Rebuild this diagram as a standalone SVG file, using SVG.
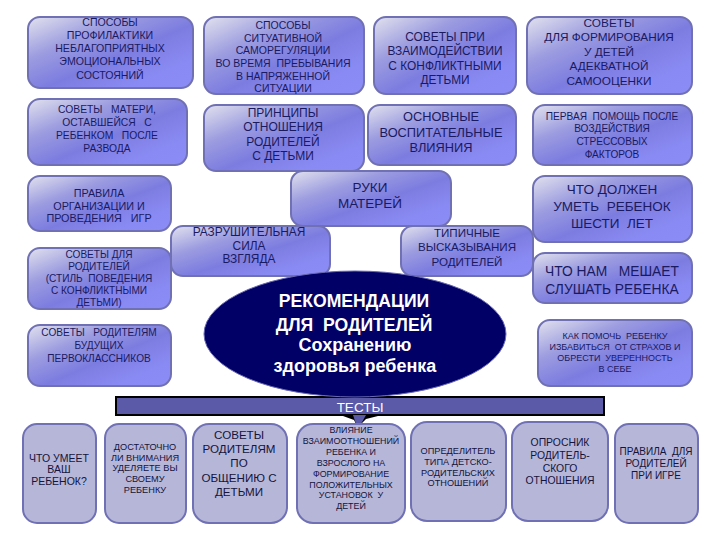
<svg xmlns="http://www.w3.org/2000/svg" width="720" height="540" viewBox="0 0 720 540">
<style>
text{font-family:"Liberation Sans",Arial,sans-serif;text-anchor:middle;white-space:pre}
.n rect{fill:url(#g);stroke:#7070b4;stroke-width:2}
.n text{fill:#1a1a60}
.b rect{fill:#b6b6d8;stroke:#7070b4;stroke-width:2}
.b text{fill:#14143c}
</style>
<defs>
<linearGradient id="g" x1="0" y1="0" x2="1" y2="1">
<stop offset="0" stop-color="#e2e2ee"/><stop offset="0.3" stop-color="#9c9ce0"/><stop offset="0.55" stop-color="#7c7ce0"/><stop offset="0.8" stop-color="#8a8af4"/><stop offset="1" stop-color="#8c8cf6"/>
</linearGradient>
</defs>
<rect width="720" height="540" fill="#fff"/>
<g id="n1" class="n"><rect x="28" y="17" width="165" height="71" rx="12"/><text font-size="10.6"><tspan x="110" y="26">СПОСОБЫ</tspan><tspan x="110" y="39">ПРОФИЛАКТИКИ</tspan><tspan x="110" y="52">НЕБЛАГОПРИЯТНЫХ</tspan><tspan x="110" y="65">ЭМОЦИОНАЛЬНЫХ</tspan><tspan x="110" y="79">СОСТОЯНИЙ</tspan></text></g>
<g id="n2" class="n"><rect x="204" y="17" width="160" height="77" rx="12"/><text font-size="10.5"><tspan x="283" y="29">СПОСОБЫ</tspan><tspan x="283" y="42">СИТУАТИВНОЙ</tspan><tspan x="283" y="54">САМОРЕГУЛЯЦИИ</tspan><tspan x="283" y="67">ВО ВРЕМЯ  ПРЕБЫВАНИЯ</tspan><tspan x="283" y="80">В НАПРЯЖЕННОЙ</tspan><tspan x="283" y="92">СИТУАЦИИ</tspan></text></g>
<g id="n3" class="n"><rect x="374" y="17" width="142" height="77" rx="12"/><text font-size="11.9"><tspan x="445" y="41">СОВЕТЫ ПРИ</tspan><tspan x="445" y="55">ВЗАИМОДЕЙСТВИИ</tspan><tspan x="445" y="70">С КОНФЛИКТНЫМИ</tspan><tspan x="445" y="84">ДЕТЬМИ</tspan></text></g>
<g id="n4" class="n"><rect x="527" y="17" width="165" height="77" rx="12"/><text font-size="11.8"><tspan x="609" y="27">СОВЕТЫ</tspan><tspan x="609" y="41">ДЛЯ ФОРМИРОВАНИЯ</tspan><tspan x="609" y="56">У ДЕТЕЙ</tspan><tspan x="609" y="70">АДЕКВАТНОЙ</tspan><tspan x="609" y="85">САМООЦЕНКИ</tspan></text></g>
<g id="n5" class="n"><rect x="28" y="99" width="159" height="66" rx="12"/><text font-size="10.3"><tspan x="107" y="113">СОВЕТЫ   МАТЕРИ,</tspan><tspan x="107" y="126">ОСТАВШЕЙСЯ   С</tspan><tspan x="107" y="139">РЕБЕНКОМ   ПОСЛЕ</tspan><tspan x="107" y="152">РАЗВОДА</tspan></text></g>
<g id="n6" class="n"><rect x="204" y="105" width="160" height="66" rx="12"/><text font-size="12"><tspan x="283" y="117">ПРИНЦИПЫ</tspan><tspan x="283" y="131">ОТНОШЕНИЯ</tspan><tspan x="283" y="146">РОДИТЕЛЕЙ</tspan><tspan x="283" y="160">С ДЕТЬМИ</tspan></text></g>
<g id="n7" class="n"><rect x="368" y="105" width="148" height="60" rx="12"/><text font-size="12.8"><tspan x="441" y="121">ОСНОВНЫЕ</tspan><tspan x="441" y="137">ВОСПИТАТЕЛЬНЫЕ</tspan><tspan x="441" y="152">ВЛИЯНИЯ</tspan></text></g>
<g id="n8" class="n"><rect x="533" y="105" width="159" height="60" rx="12"/><text font-size="10.1"><tspan x="612" y="120">ПЕРВАЯ  ПОМОЩЬ ПОСЛЕ</tspan><tspan x="612" y="132">ВОЗДЕЙСТВИЯ</tspan><tspan x="612" y="145">СТРЕССОВЫХ</tspan><tspan x="612" y="158">ФАКТОРОВ</tspan></text></g>
<g id="n9" class="n"><rect x="28" y="176" width="143" height="55" rx="12"/><text font-size="10.8"><tspan x="99" y="197">ПРАВИЛА</tspan><tspan x="99" y="210">ОРГАНИЗАЦИИ И</tspan><tspan x="99" y="222">ПРОВЕДЕНИЯ   ИГР</tspan></text></g>
<g id="n10" class="n"><rect x="291" y="171" width="160" height="55" rx="12"/><text font-size="13.5"><tspan x="370" y="192">РУКИ</tspan><tspan x="370" y="208">МАТЕРЕЙ</tspan></text></g>
<g id="n11" class="n"><rect x="171" y="226" width="159" height="50" rx="12"/><text font-size="11.9"><tspan x="249" y="236">РАЗРУШИТЕЛЬНАЯ</tspan><tspan x="249" y="250">СИЛА</tspan><tspan x="249" y="263">ВЗГЛЯДА</tspan></text></g>
<g id="n12" class="n"><rect x="401" y="226" width="132" height="50" rx="12"/><text font-size="11.6"><tspan x="467" y="237">ТИПИЧНЫЕ</tspan><tspan x="467" y="251">ВЫСКАЗЫВАНИЯ</tspan><tspan x="467" y="266">РОДИТЕЛЕЙ</tspan></text></g>
<g id="n13" class="n"><rect x="533" y="176" width="159" height="66" rx="12"/><text font-size="13.5"><tspan x="612" y="194">ЧТО ДОЛЖЕН</tspan><tspan x="612" y="211">УМЕТЬ  РЕБЕНОК</tspan><tspan x="612" y="228">ШЕСТИ  ЛЕТ</tspan></text></g>
<g id="n14" class="n"><rect x="533" y="253" width="159" height="50" rx="12"/><text font-size="13.8"><tspan x="612" y="276">ЧТО НАМ   МЕШАЕТ</tspan><tspan x="612" y="294">СЛУШАТЬ РЕБЕНКА</tspan></text></g>
<g id="n15" class="n"><rect x="28" y="248" width="143" height="61" rx="12"/><text font-size="10.1"><tspan x="99" y="258">СОВЕТЫ ДЛЯ</tspan><tspan x="99" y="270">РОДИТЕЛЕЙ</tspan><tspan x="99" y="282">(СТИЛЬ  ПОВЕДЕНИЯ</tspan><tspan x="99" y="294">С КОНФЛИКТНЫМИ</tspan><tspan x="99" y="306">ДЕТЬМИ)</tspan></text></g>
<g id="n16" class="n"><rect x="28" y="325" width="143" height="61" rx="12"/><text font-size="10.1"><tspan x="99" y="336">СОВЕТЫ   РОДИТЕЛЯМ</tspan><tspan x="99" y="349">БУДУЩИХ</tspan><tspan x="99" y="362">ПЕРВОКЛАССНИКОВ</tspan></text></g>
<g id="n17" class="n"><rect x="538" y="320" width="154" height="66" rx="12"/><text font-size="9"><tspan x="615" y="339">КАК ПОМОЧЬ  РЕБЕНКУ</tspan><tspan x="615" y="350">ИЗБАВИТЬСЯ  ОТ СТРАХОВ И</tspan><tspan x="615" y="361">ОБРЕСТИ  УВЕРЕННОСТЬ</tspan><tspan x="615" y="372">В СЕБЕ</tspan></text></g>
<g id="tests"><rect x="116" y="397" width="488" height="18" fill="#5a5aa8" stroke="#000" stroke-width="2"/><text x="360" y="412" font-size="13.5" fill="#fff">ТЕСТЫ</text></g>
<g id="connectors"><path d="M343 416H378L366 419L361 424H356L354 420Z" fill="#000"/><path d="M353 415H366L361 424H356Z" fill="#5a5aa8"/></g>
<g id="center"><ellipse cx="355" cy="334" rx="151" ry="63" fill="#000066" stroke="#6a6ab4" stroke-width="1"/><g font-weight="700" fill="#fff"><text font-size="17.6"><tspan x="354" y="307">РЕКОМЕНДАЦИИ</tspan><tspan x="354" y="331">ДЛЯ  РОДИТЕЛЕЙ</tspan></text><text font-size="18"><tspan x="355" y="351">Сохранению</tspan><tspan x="355" y="372">здоровья ребенка</tspan></text></g></g>
<g id="b1" class="b"><rect x="23" y="424" width="73" height="99" rx="14"/><text font-size="10.5"><tspan x="59" y="462">ЧТО УМЕЕТ</tspan><tspan x="59" y="473">ВАШ</tspan><tspan x="59" y="485">РЕБЕНОК?</tspan></text></g>
<g id="b2" class="b"><rect x="105" y="424" width="81" height="99" rx="14"/><text font-size="9.2"><tspan x="145" y="450">ДОСТАТОЧНО</tspan><tspan x="145" y="461">ЛИ ВНИМАНИЯ</tspan><tspan x="145" y="471">УДЕЛЯЕТЕ ВЫ</tspan><tspan x="145" y="482">СВОЕМУ</tspan><tspan x="145" y="493">РЕБЕНКУ</tspan></text></g>
<g id="b3" class="b"><rect x="193" y="424" width="94" height="99" rx="16"/><text font-size="11.6"><tspan x="239" y="439">СОВЕТЫ</tspan><tspan x="239" y="453">РОДИТЕЛЯМ</tspan><tspan x="239" y="467">ПО</tspan><tspan x="239" y="482">ОБЩЕНИЮ С</tspan><tspan x="239" y="496">ДЕТЬМИ</tspan></text></g>
<g id="b4" class="b"><rect x="297" y="424" width="108" height="99" rx="16"/><text font-size="8.9"><tspan x="351" y="433">ВЛИЯНИЕ</tspan><tspan x="351" y="444">ВЗАИМООТНОШЕНИЙ</tspan><tspan x="351" y="455">РЕБЕНКА И</tspan><tspan x="351" y="466">ВЗРОСЛОГО НА</tspan><tspan x="351" y="477">ФОРМИРОВАНИЕ</tspan><tspan x="351" y="488">ПОЛОЖИТЕЛЬНЫХ</tspan><tspan x="351" y="498">УСТАНОВОК  У</tspan><tspan x="351" y="509">ДЕТЕЙ</tspan></text></g>
<g id="b5" class="b"><rect x="411" y="422" width="95" height="99" rx="16"/><text font-size="9.2"><tspan x="458" y="454">ОПРЕДЕЛИТЕЛЬ</tspan><tspan x="458" y="465">ТИПА ДЕТСКО-</tspan><tspan x="458" y="476">РОДИТЕЛЬСКИХ</tspan><tspan x="458" y="486">ОТНОШЕНИЙ</tspan></text></g>
<g id="b6" class="b"><rect x="512" y="422" width="96" height="99" rx="16"/><text font-size="10.4"><tspan x="560" y="446">ОПРОСНИК</tspan><tspan x="560" y="459">РОДИТЕЛЬ-</tspan><tspan x="560" y="472">СКОГО</tspan><tspan x="560" y="484">ОТНОШЕНИЯ</tspan></text></g>
<g id="b7" class="b"><rect x="615" y="424" width="83" height="99" rx="14"/><text font-size="10"><tspan x="656" y="455">ПРАВИЛА  ДЛЯ</tspan><tspan x="656" y="467">РОДИТЕЛЕЙ</tspan><tspan x="656" y="479">ПРИ ИГРЕ</tspan></text></g>
</svg>
